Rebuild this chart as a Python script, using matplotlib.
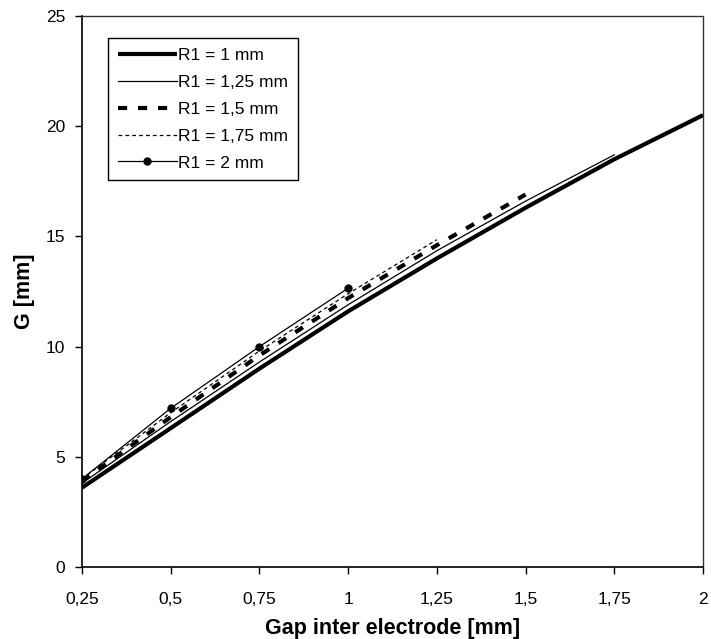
import matplotlib
matplotlib.use("Agg")
import matplotlib.pyplot as plt
from matplotlib.ticker import FixedLocator, FuncFormatter

# Data: gap between electrodes [mm] vs G [mm] for several R1
gap_r1_100 = [0.25, 0.5, 0.75, 1.0, 1.25, 1.5, 1.75, 2.0]
g_r1_100 = [3.6, 6.3, 9.0, 11.6, 14.0, 16.3, 18.5, 20.5]

gap_r1_125 = [0.25, 0.5, 0.75, 1.0, 1.25, 1.5, 1.75]
g_r1_125 = [3.8, 6.6, 9.3, 11.9, 14.35, 16.6, 18.7]

gap_r1_150 = [0.25, 0.5, 0.75, 1.0, 1.25, 1.5]
g_r1_150 = [3.9, 6.8, 9.6, 12.2, 14.6, 16.9]

gap_r1_175 = [0.25, 0.5, 0.75, 1.0, 1.25]
g_r1_175 = [4.0, 7.0, 9.8, 12.4, 14.85]

gap_r1_200 = [0.25, 0.5, 0.75, 1.0]
g_r1_200 = [4.0, 7.2, 10.0, 12.65]

labels = ["R1 = 1 mm", "R1 = 1,25 mm", "R1 = 1,5 mm", "R1 = 1,75 mm", "R1 = 2 mm"]
x_ticks = [0.25, 0.5, 0.75, 1.0, 1.25, 1.5, 1.75, 2.0]
y_ticks = [0, 5, 10, 15, 20, 25]

plt.rcParams['font.family'] = ['Liberation Sans', 'DejaVu Sans']

fig = plt.figure(figsize=(7.11, 6.39), dpi=100)
ax = fig.add_axes([82/711, 1 - 567/639, (703 - 82)/711, (567 - 16)/639])

ax.plot(gap_r1_100, g_r1_100, color='black', lw=3.0, solid_capstyle='butt', label=labels[0])
ax.plot(gap_r1_125, g_r1_125, color='black', lw=0.9, label=labels[1])
ax.plot(gap_r1_150, g_r1_150, color='black', lw=3.0, linestyle=(0, (2.2, 2.6)), dash_capstyle='butt', label=labels[2])
ax.plot(gap_r1_175, g_r1_175, color='black', lw=0.9, linestyle=(0, (3, 2.5)), label=labels[3])
ax.plot(gap_r1_200, g_r1_200, color='black', lw=0.9, marker='o', markersize=5, label=labels[4])

ax.set_xlim(0.25, 2.0)
ax.set_ylim(0, 25)
ax.xaxis.set_major_locator(FixedLocator(x_ticks))
ax.yaxis.set_major_locator(FixedLocator(y_ticks))
ax.xaxis.set_major_formatter(FuncFormatter(lambda v, p: ('%g' % v).replace('.', ',')))
ax.yaxis.set_major_formatter(FuncFormatter(lambda v, p: '%g' % v))
ax.tick_params(axis='both', direction='out', length=5, width=1, labelsize=12.5, colors='black')
ax.tick_params(axis='x', pad=13)
ax.tick_params(axis='y', pad=7)

for s in ['left', 'bottom']:
    ax.spines[s].set_linewidth(1.2)
for s in ['top', 'right']:
    ax.spines[s].set_linewidth(1.0)
    ax.spines[s].set_linestyle((0, (1.5, 1)))
    ax.spines[s].set_color('#333333')

ax.set_xlabel('Gap inter electrode [mm]', fontsize=15.5, fontweight='bold', labelpad=8)
ax.set_ylabel('G [mm]', fontsize=15.5, fontweight='bold', labelpad=8)

leg = ax.legend(loc='upper left', bbox_to_anchor=(26/621, 1 - 22/551), fontsize=12.5,
                frameon=True, fancybox=False, edgecolor='black', framealpha=1,
                handlelength=3.4, handletextpad=0.1, labelspacing=0.68, borderpad=0.55,
                borderaxespad=0)
leg.get_frame().set_linewidth(1.0)

fig.savefig('out.png', dpi=100)
